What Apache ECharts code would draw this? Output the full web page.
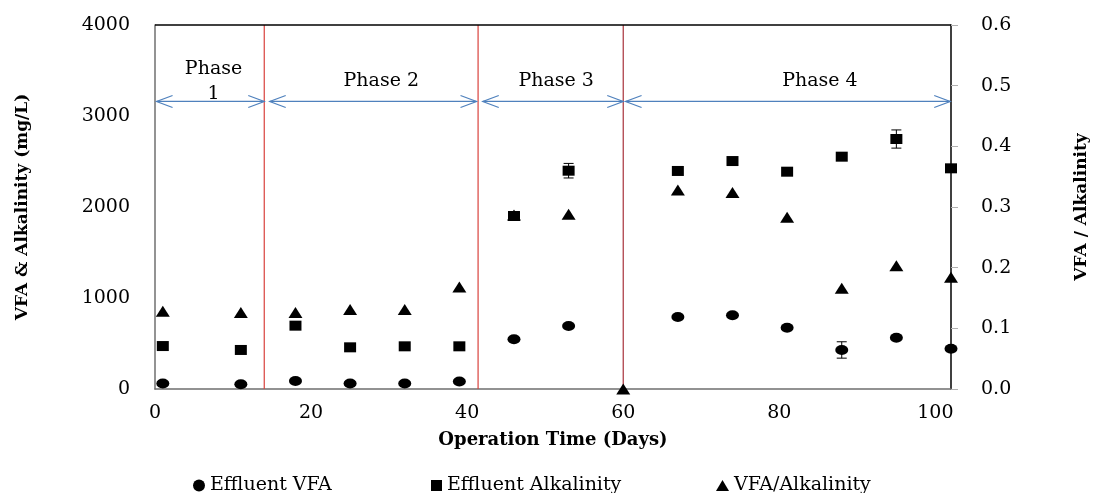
<!DOCTYPE html>
<html>
<head>
<meta charset="utf-8">
<script src="https://cdn.jsdelivr.net/npm/echarts@6/dist/echarts.min.js"></script>
<style>
html,body{margin:0;padding:0;background:#fff;}
#chart{width:1098px;height:493px;}
</style>
</head>
<body>
<div id="chart"></div>
<script>
// ---- data ----
var days = [1, 11, 18, 25, 32, 39, 46, 53, 60, 67, 74, 81, 88, 95, 102];
var effluentVFA = [60, 52, 88, 60, 60, 82, 546, 692, null, 791, 810, 674, 429, 564, 443];
var effluentAlk = [472, 429, 696, 458, 469, 469, 1901, 2399, null, 2396, 2505, 2388, 2553, 2747, 2425];
var vfaAlkRatio = [0.128, 0.126, 0.126, 0.131, 0.131, 0.168, 0.287, 0.288, 0, 0.328, 0.324, 0.283, 0.166, 0.203, 0.184];
var vfaErr = [0, 0, 0, 0, 0, 0, 0, 0, 0, 0, 0, 0, 90, 0, 0];
var alkErr = [0, 0, 0, 0, 0, 0, 30, 80, 0, 0, 0, 0, 0, 100, 0];
var phaseBoundaries = [14, 41.4, 60];
var phaseNames = ['Phase\n1', 'Phase 2', 'Phase 3', 'Phase 4'];
var phaseArrowStart = [0.2, 14.7, 42, 60.3];
var phaseArrowEnd = [14, 41.2, 60, 101.9];
var phaseLabelDay = [7.5, 29, 51.4, 85.2];
var phaseArrowLevel = 3160;
var phaseLabelLevel = 3380;
var xTicks = [0, 20, 40, 60, 80, 100];
var leftTicks = [0, 1000, 2000, 3000, 4000];
var rightTicks = [0.0, 0.1, 0.2, 0.3, 0.4, 0.5, 0.6];

var FONT = 'DejaVu Serif';
var Y_MAX = 4000;

function pairs(xs, ys) {
  var out = [];
  for (var i = 0; i < xs.length; i++) {
    if (ys[i] !== null) out.push([xs[i], ys[i]]);
  }
  return out;
}
function errData(xs, ys, es) {
  var out = [];
  for (var i = 0; i < xs.length; i++) {
    if (ys[i] !== null && es[i] > 0) out.push([xs[i], ys[i], es[i]]);
  }
  return out;
}
var phaseData = [];
for (var p = 0; p < phaseNames.length; p++) {
  phaseData.push([phaseArrowStart[p], phaseArrowEnd[p], phaseArrowLevel, phaseLabelDay[p], phaseLabelLevel, p]);
}
var boundaryData = phaseBoundaries.map(function (d) { return [d, 0]; });

function renderErr(params, api) {
  var x = api.value(0), y = api.value(1), e = api.value(2);
  var top = api.coord([x, y + e]);
  var bot = api.coord([x, y - e]);
  var cap = 5;
  var st = {stroke: '#000', lineWidth: 1};
  return {
    type: 'group',
    children: [
      {type: 'line', shape: {x1: top[0], y1: top[1], x2: bot[0], y2: bot[1]}, style: st},
      {type: 'line', shape: {x1: top[0] - cap, y1: top[1], x2: top[0] + cap, y2: top[1]}, style: st},
      {type: 'line', shape: {x1: bot[0] - cap, y1: bot[1], x2: bot[0] + cap, y2: bot[1]}, style: st}
    ]
  };
}

function renderBoundary(params, api) {
  var d = api.value(0);
  var b = api.coord([d, 0]);
  var t = api.coord([d, Y_MAX]);
  var col = params.dataIndex === 2 ? '#a8323a' : '#d9413c';
  return {type: 'line', shape: {x1: b[0], y1: b[1], x2: t[0], y2: t[1]},
    style: {stroke: col, lineWidth: 1.2}};
}

function renderPhase(params, api) {
  var a = api.coord([api.value(0), api.value(2)]);
  var b = api.coord([api.value(1), api.value(2)]);
  var t = api.coord([api.value(3), api.value(4)]);
  var idx = api.value(5);
  var hl = 16, hh = 6;
  var st = {stroke: '#4f81bd', lineWidth: 1.2, fill: null};
  return {
    type: 'group',
    children: [
      {type: 'line', shape: {x1: a[0], y1: a[1], x2: b[0], y2: b[1]}, style: st},
      {type: 'polyline', shape: {points: [[a[0] + hl, a[1] - hh], [a[0], a[1]], [a[0] + hl, a[1] + hh]]}, style: st},
      {type: 'polyline', shape: {points: [[b[0] - hl, b[1] - hh], [b[0], b[1]], [b[0] - hl, b[1] + hh]]}, style: st},
      {type: 'text', x: t[0], y: t[1], style: {
        text: phaseNames[idx], fill: '#000', font: '19px "' + FONT + '"',
        align: 'center', verticalAlign: 'middle', lineHeight: 25
      }}
    ]
  };
}

var legendText = {fontFamily: FONT, fontSize: 19, color: '#000'};
var chart = echarts.init(document.getElementById('chart'), null, {renderer: 'canvas'});
var option = {
  animation: false,
  backgroundColor: '#fff',
  textStyle: {fontFamily: FONT, color: '#000'},
  grid: {left: 155, right: 145, top: 25, bottom: 104, containLabel: false},
  legend: [
    {left: 188, top: 471, itemWidth: 12, itemHeight: 12, itemGap: 0,
     data: [{name: 'Effluent VFA', icon: 'circle'}], textStyle: legendText},
    {left: 426, top: 471, itemWidth: 11, itemHeight: 11, itemGap: 0,
     data: [{name: 'Effluent Alkalinity', icon: 'rect'}], textStyle: legendText},
    {left: 711, top: 471, itemWidth: 13, itemHeight: 11, itemGap: 0,
     data: [{name: 'VFA/Alkalinity', icon: 'triangle'}], textStyle: legendText}
  ],
  xAxis: {
    type: 'value', min: 0, max: 102, interval: 20,
    name: 'Operation Time (Days)', nameLocation: 'middle', nameGap: 42,
    nameTextStyle: {fontFamily: FONT, fontSize: 18, fontWeight: 'bold', color: '#000'},
    axisLine: {show: true, lineStyle: {color: '#6f6f6f', width: 1.5}},
    axisTick: {show: false},
    splitLine: {show: false},
    axisLabel: {fontFamily: FONT, fontSize: 19, color: '#000', margin: 15,
      customValues: xTicks, formatter: function (v) { return String(v); }}
  },
  yAxis: [
    {
      type: 'value', min: 0, max: Y_MAX, interval: 1000, position: 'left',
      name: 'VFA & Alkalinity (mg/L)', nameLocation: 'middle', nameGap: 124, nameRotate: 90,
      nameTextStyle: {fontFamily: FONT, fontSize: 17, fontWeight: 'bold', color: '#000'},
      axisLine: {show: true, lineStyle: {color: '#6f6f6f', width: 1.5}},
      axisTick: {show: false},
      splitLine: {show: false},
      axisLabel: {fontFamily: FONT, fontSize: 19, color: '#000', margin: 25, customValues: leftTicks,
        formatter: function (v) { return String(v); }}
    },
    {
      type: 'value', min: 0, max: 0.6, interval: 0.1, position: 'right',
      name: 'VFA / Alkalinity', nameLocation: 'middle', nameGap: 122, nameRotate: 90,
      nameTextStyle: {fontFamily: FONT, fontSize: 17, fontWeight: 'bold', color: '#000'},
      axisLine: {show: true, lineStyle: {color: '#000', width: 1.5}},
      axisTick: {show: true, length: 7, lineStyle: {color: '#b0b0b0'}, customValues: rightTicks},
      splitLine: {show: false},
      axisLabel: {fontFamily: FONT, fontSize: 19, color: '#000', margin: 30, customValues: rightTicks,
        formatter: function (v) { return v.toFixed(1); }}
    }
  ],
  series: [
    {
      name: 'Boundaries', type: 'custom', xAxisIndex: 0, yAxisIndex: 0,
      renderItem: renderBoundary, data: boundaryData, silent: true, z: 2, clip: false
    },
    {
      name: 'Phases', type: 'custom', xAxisIndex: 0, yAxisIndex: 0,
      renderItem: renderPhase, data: phaseData, silent: true, z: 3, clip: false
    },
    {
      name: 'Effluent VFA', type: 'scatter', yAxisIndex: 0,
      symbol: 'circle', symbolSize: [13, 10],
      itemStyle: {color: '#000', opacity: 1},
      data: pairs(days, effluentVFA), z: 6, clip: false
    },
    {
      name: 'Effluent Alkalinity', type: 'scatter', yAxisIndex: 0,
      symbol: 'rect', symbolSize: [12, 10],
      itemStyle: {color: '#000', opacity: 1},
      data: pairs(days, effluentAlk), z: 6, clip: false,
      markLine: {
        silent: true, symbol: 'none', animation: false,
        label: {show: false},
        data: [{yAxis: Y_MAX, lineStyle: {color: '#000', width: 1.5, type: 'solid', opacity: 1}}]
      }
    },
    {
      name: 'VFA/Alkalinity', type: 'scatter', yAxisIndex: 1,
      symbol: 'triangle', symbolSize: [14, 11],
      itemStyle: {color: '#000', opacity: 1},
      data: pairs(days, vfaAlkRatio), z: 7, clip: false
    },
    {
      name: 'VFA err', type: 'custom', yAxisIndex: 0, renderItem: renderErr,
      data: errData(days, effluentVFA, vfaErr), z: 5, silent: true, clip: false
    },
    {
      name: 'Alk err', type: 'custom', yAxisIndex: 0, renderItem: renderErr,
      data: errData(days, effluentAlk, alkErr), z: 5, silent: true, clip: false
    }
  ]
};
chart.setOption(option);
</script>
</body>
</html>
